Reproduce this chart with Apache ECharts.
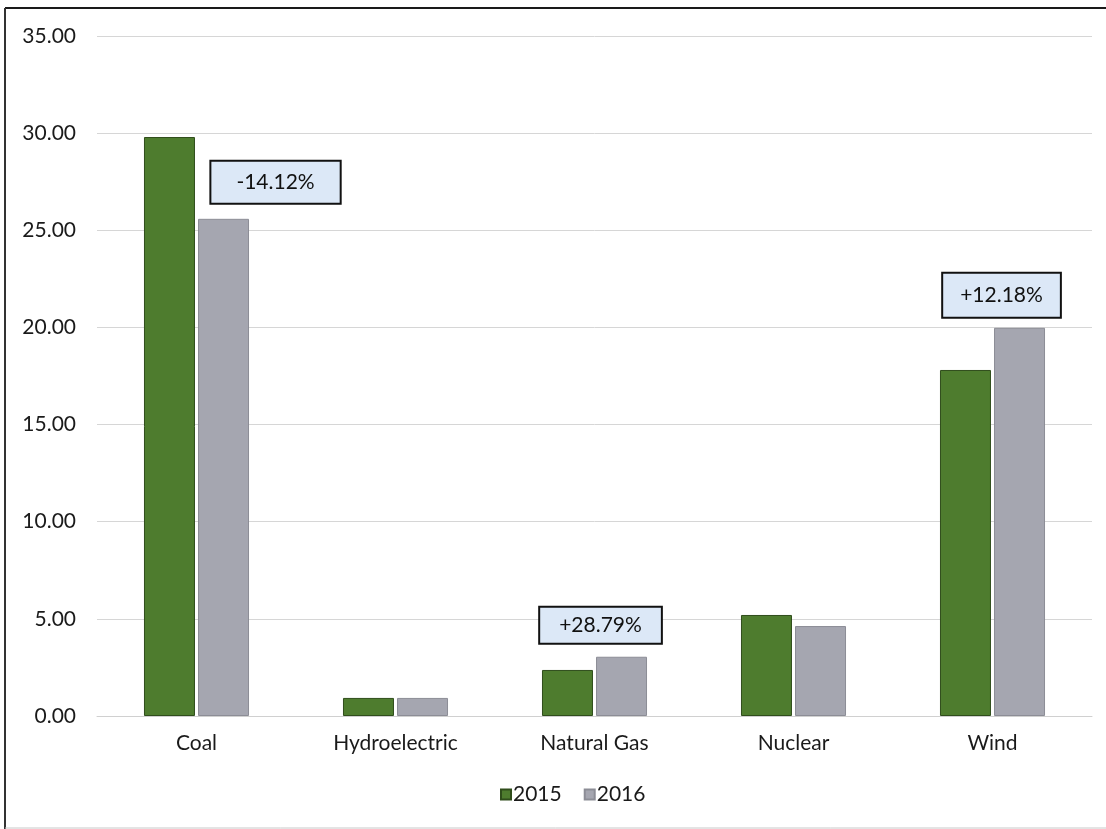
<!DOCTYPE html>
<html>
<head>
<meta charset="utf-8">
<script src="https://cdn.jsdelivr.net/npm/echarts@6/dist/echarts.min.js"></script>
<style>
html,body{margin:0;padding:0;background:#fff;}
#c{width:1106px;height:829px;}
</style>
</head>
<body>
<div id="c"></div>
<script>
var categories = ['Coal', 'Hydroelectric', 'Natural Gas', 'Nuclear', 'Wind'];
var values2015 = [29.80, 0.93, 2.37, 5.20, 17.81];
var values2016 = [25.59, 0.93, 3.05, 4.63, 19.98];
var changeLabels = ['-14.12%', null, '+28.79%', null, '+12.18%'];
var yTicks = { min: 0, max: 35, interval: 5 };

var FONT = 'Lato, "Open Sans", sans-serif';
var labelLayout = [
  { offset: [52, -11], padding: [10, 25] },
  null,
  { offset: [-21, -9], padding: [7, 19] },
  null,
  { offset: [-18, -6], padding: [11, 17] }
];

var data2016 = values2016.map(function (v, i) {
  if (!changeLabels[i]) return { value: v, label: { show: false } };
  return {
    value: v,
    label: {
      show: true,
      position: 'top',
      distance: 5,
      offset: labelLayout[i].offset,
      formatter: changeLabels[i],
      backgroundColor: '#dce8f7',
      borderColor: '#111111',
      borderWidth: 2,
      padding: labelLayout[i].padding,
      fontFamily: FONT,
      fontSize: 21,
      color: '#111'
    }
  };
});

var chart = echarts.init(document.getElementById('c'), null, { renderer: 'canvas' });
chart.setOption({
  backgroundColor: '#ffffff',
  animation: false,
  grid: { left: 97, right: 14, top: 36, bottom: 113, containLabel: false },
  legend: {
    bottom: 19,
    left: 495,
    itemWidth: 10,
    itemHeight: 10,
    itemGap: 22,
    icon: 'rect',
    textStyle: { fontFamily: FONT, fontSize: 21, color: '#1a1a1a', padding: [0, 0, 0, -3] },
    data: ['2015', '2016']
  },
  xAxis: {
    type: 'category',
    data: categories,
    axisLine: { show: true, lineStyle: { color: '#d0d0d0', width: 1 } },
    axisTick: { show: false },
    axisLabel: { fontFamily: FONT, fontSize: 21, color: '#1a1a1a', margin: 17 }
  },
  yAxis: {
    type: 'value',
    min: yTicks.min,
    max: yTicks.max,
    interval: yTicks.interval,
    axisLine: { show: false },
    axisTick: { show: false },
    splitLine: { lineStyle: { color: '#d6d6d6', width: 1 } },
    axisLabel: {
      fontFamily: FONT, fontSize: 21, color: '#1a1a1a', margin: 21,
      formatter: function (v) { return v.toFixed(2); }
    }
  },
  series: [
    {
      name: '2015',
      type: 'bar',
      data: values2015,
      barWidth: 51,
      barGap: '6%',
      itemStyle: { color: '#4e7c2e', borderColor: '#2f4d1b', borderWidth: 1 }
    },
    {
      name: '2016',
      type: 'bar',
      data: data2016,
      barWidth: 51,
      barGap: '6%',
      itemStyle: { color: '#a5a6b0', borderColor: '#8c8d96', borderWidth: 1 }
    }
  ],
  graphic: [
    { type: 'line', shape: { x1: 5, y1: 8, x2: 1106, y2: 8 }, style: { stroke: '#1a1a1a', lineWidth: 2 } },
    { type: 'line', shape: { x1: 5, y1: 8, x2: 5, y2: 829 }, style: { stroke: '#333', lineWidth: 2 } },
    { type: 'line', shape: { x1: 5, y1: 828, x2: 1106, y2: 828 }, style: { stroke: '#c8c8c8', lineWidth: 1 } }
  ]
});
</script>
</body>
</html>
